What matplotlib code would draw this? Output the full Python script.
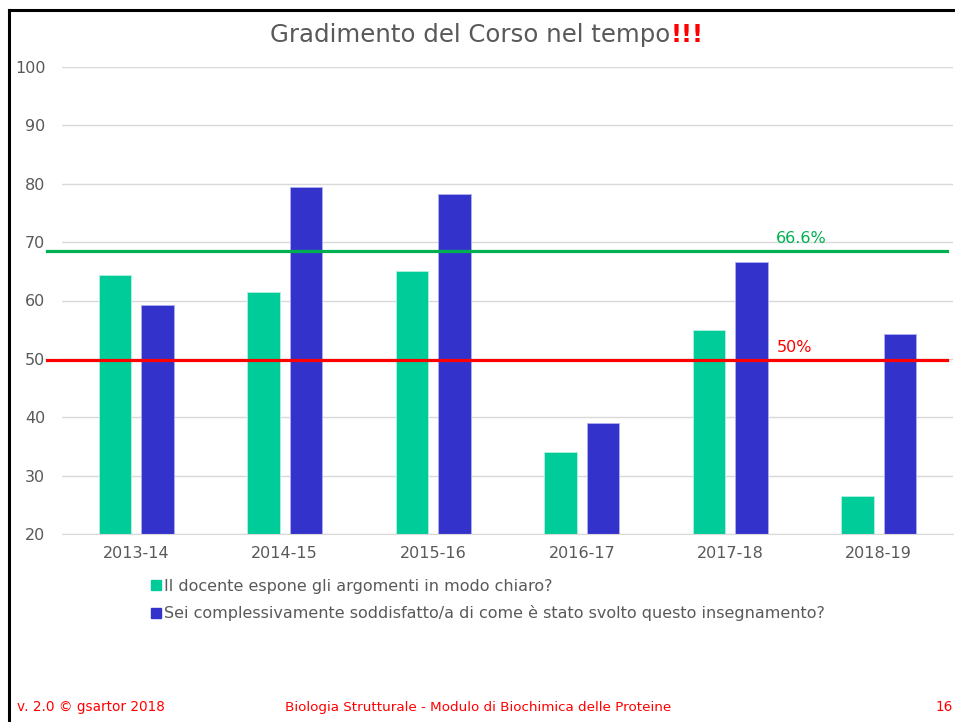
import matplotlib
matplotlib.use('Agg')
import matplotlib.pyplot as plt
import numpy as np
from matplotlib.lines import Line2D

# 데이터
anni = ['2013-14', '2014-15', '2015-16', '2016-17', '2017-18', '2018-19']
docente_chiaro = [64.4, 61.4, 65.0, 34.0, 54.9, 26.5]
soddisfatto = [59.3, 79.4, 78.3, 39.0, 66.6, 54.2]
serie_nomi = ['Il docente espone gli argomenti in modo chiaro?',
              'Sei complessivamente soddisfatto/a di come è stato svolto questo insegnamento?']
soglia_verde = 68.4
soglia_rossa = 49.8
etichetta_verde = '66.6%'
etichetta_rossa = '50%'

verde = '#00CC99'
blu = '#3333CC'
grigio = '#595959'

plt.rcParams['font.family'] = ['DejaVu Sans']

fig = plt.figure(figsize=(9.55, 7.22), dpi=100)
W, H = 955, 722
ax = fig.add_axes([62 / W, 1 - 534 / H, (953 - 62) / W, (534 - 67) / H])

x = np.arange(len(anni))
larg = 0.222
ax.bar(x - 0.143, docente_chiaro, larg, color=verde, edgecolor='#b3f0e0', linewidth=0.6, zorder=2)
ax.bar(x + 0.143, soddisfatto, larg, color=blu, edgecolor='#b0b0ee', linewidth=0.6, zorder=2)

ax.set_xlim(-0.5, len(anni) - 0.5)
ax.set_ylim(20, 100)
ax.set_yticks(range(20, 101, 10))
ax.set_xticks(x)
ax.set_xticklabels(anni)
ax.tick_params(length=0, colors=grigio, labelsize=11.5)
ax.tick_params(axis='x', pad=9)
ax.tick_params(axis='y', pad=12)
ax.grid(axis='y', color='#d9d9d9', linewidth=1, zorder=0)
for s in ['top', 'right', 'left']:
    ax.spines[s].set_visible(False)
ax.spines['bottom'].set_color('#d9d9d9')

# linee di soglia (oltre l'area del grafico)
ax.axhline(soglia_verde, xmin=-0.017, xmax=0.993, color='#00B050', linewidth=2.3, clip_on=False, zorder=3)
ax.axhline(soglia_rossa, xmin=-0.017, xmax=0.993, color='#FF0000', linewidth=2.3, clip_on=False, zorder=3)
ax.text(4.31, soglia_verde + 1.0, etichetta_verde, color='#00B050', fontsize=11.5, va='bottom', ha='left')
ax.text(4.31, soglia_rossa + 0.8, etichetta_rossa, color='#FF0000', fontsize=11.5, va='bottom', ha='left')

# titolo
t1 = fig.text(270 / W, 1 - 35 / H, 'Gradimento del Corso nel tempo', color=grigio,
              fontsize=17.6, ha='left', va='center')
ax.annotate('!!!', xy=(1, 0), xycoords=t1, va='bottom', ha='left',
            color='#FF0000', fontsize=17.6, fontweight='bold')

# legenda
maniglie = [Line2D([], [], marker='s', linestyle='', color=verde, markersize=7),
            Line2D([], [], marker='s', linestyle='', color=blu, markersize=7)]
leg = fig.legend(maniglie, serie_nomi, loc='upper left', bbox_to_anchor=(151 / W, 1 - 579 / H),
                 frameon=False, fontsize=11.5, handlelength=0.6, handletextpad=0.2,
                 labelspacing=0.7, borderaxespad=0, borderpad=0)
for t in leg.get_texts():
    t.set_color(grigio)

# piè di pagina
fig.text(17 / W, 1 - 707 / H, 'v. 2.0 © gsartor 2018', color='#FF0000', fontsize=9.8, va='center')
fig.text(285 / W, 1 - 707 / H, 'Biologia Strutturale - Modulo di Biochimica delle Proteine',
         color='#FF0000', fontsize=9.7, va='center')
fig.text(953 / W, 1 - 707 / H, '16', color='#FF0000', fontsize=9.8, va='center', ha='right')

# cornice
fig.add_artist(Line2D([9 / W, 9 / W], [0, 1 - 10 / H], color='black', linewidth=2.2))
fig.add_artist(Line2D([9 / W, 1], [1 - 10 / H, 1 - 10 / H], color='black', linewidth=2.2))

fig.savefig('out.png', dpi=100)
